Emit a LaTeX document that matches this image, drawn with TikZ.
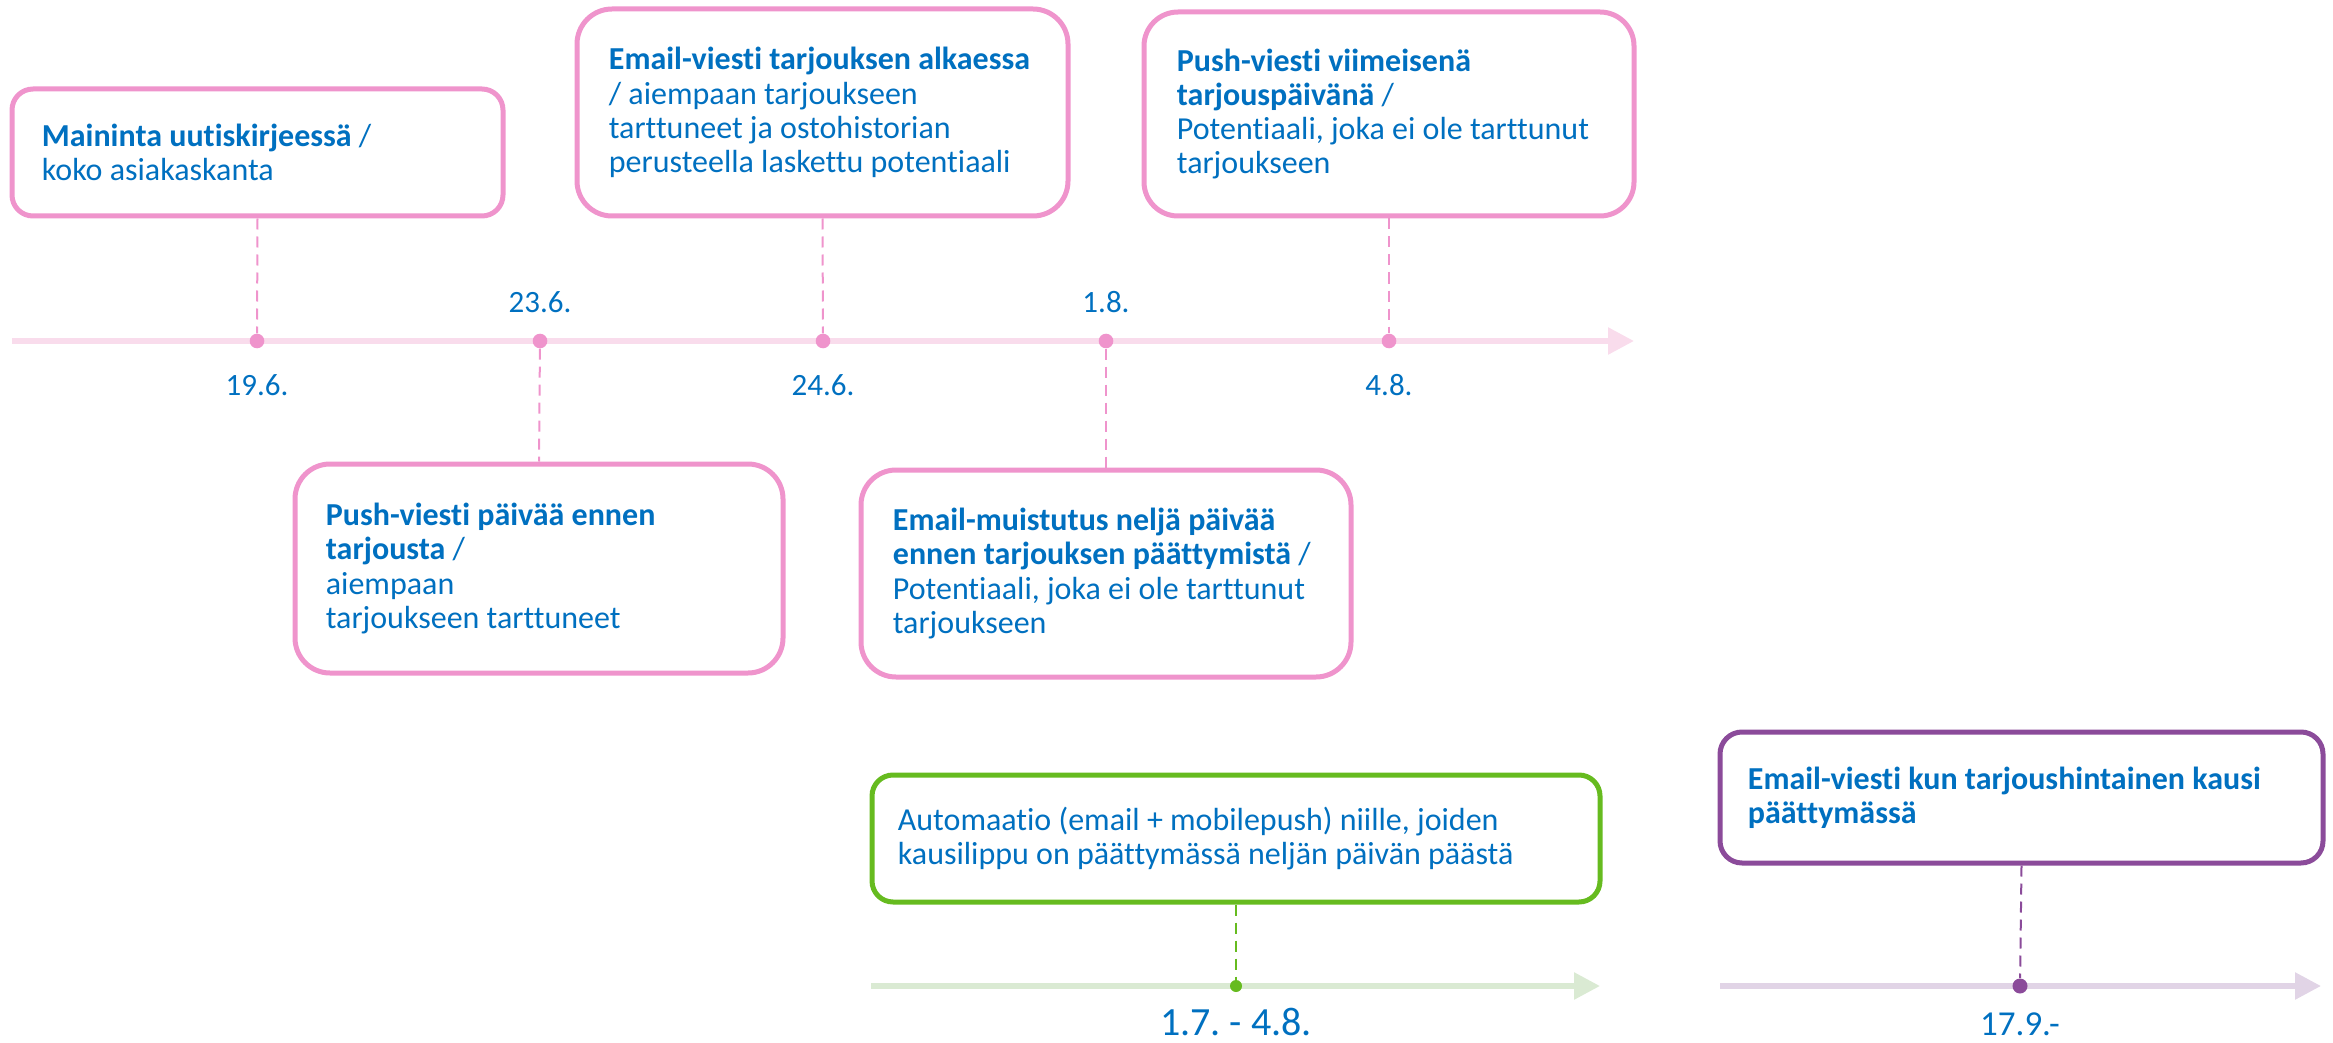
\documentclass[tikz,border=0pt]{standalone}
\usepackage{fontspec}
\setmainfont{Carlito}[Ligatures=NoCommon]
\usetikzlibrary{arrows.meta}
\frenchspacing
\definecolor{pinkc}{HTML}{EF94CC}
\definecolor{pinkl}{HTML}{F9DCEC}
\definecolor{txtblue}{HTML}{0070C0}
\definecolor{greenc}{HTML}{66BB1F}
\definecolor{greenl}{HTML}{DAEAD3}
\definecolor{purc}{HTML}{8B4B9A}
\definecolor{purl}{HTML}{E1D4E6}
\newcommand{\boxfont}{\fontsize{16}{17.1}\selectfont}
\begin{document}
\begin{tikzpicture}[x=0.5pt,y=-0.5pt,
  bx/.style={rectangle, draw=pinkc, line width=2.5pt, fill=white, inner sep=0pt},
  btext/.style={anchor=west, align=left, inner sep=0pt, text=txtblue, font=\boxfont},
  datelab/.style={inner sep=0pt, text=txtblue, font=\fontsize{15.5}{17}\selectfont},
  pdot/.style={circle, fill=pinkc, inner sep=0pt, minimum size=7.3pt},
  pdash/.style={draw=pinkc, line width=1pt, dash pattern=on 5.5pt off 3.5pt},
  tl/.style={line width=2.8pt, -{Triangle[length=13pt,width=13pt]}}
]
\useasboundingbox (0,0) rectangle (2333,1043);

% top timeline
\coordinate (ts) at (12,341);
\coordinate (te) at (1634,341);
\draw[tl, draw=pinkl, fill=pinkl] (ts) -- (te);

\node[pdot] (d1) at (257,341) {};
\node[pdot] (d2) at (540,341) {};
\node[pdot] (d3) at (823,341) {};
\node[pdot] (d4) at (1106,341) {};
\node[pdot] (d5) at (1389,341) {};

\node[datelab] (l1) at (257,385) {19.6.};
\node[datelab] (l2) at (540,302) {23.6.};
\node[datelab] (l3) at (823,385) {24.6.};
\node[datelab] (l4) at (1106,302) {1.8.};
\node[datelab] (l5) at (1389,385) {4.8.};

% boxes
\node[bx, minimum width=245.5pt, minimum height=63.5pt, rounded corners=10.5pt] (b1) at (257.5,152.5) {};
\node[btext] (t1) at ([xshift=16pt]b1.west) {\textbf{Maininta uutiskirjeessä} /\\koko asiakaskanta};

\node[bx, minimum width=245.5pt, minimum height=103.5pt, rounded corners=17.5pt] (b2) at (822.5,112.5) {};
\node[btext] (t2) at ([xshift=17pt]b2.west) {\textbf{Email-viesti tarjouksen alkaessa}\\/ aiempaan tarjoukseen\\tarttuneet ja ostohistorian\\perusteella laskettu potentiaali};

\node[bx, minimum width=245pt, minimum height=102pt, rounded corners=17pt] (b4) at (1389,114) {};
\node[btext] (t4) at ([xshift=17.5pt]b4.west) {\textbf{Push-viesti viimeisenä}\\\textbf{tarjouspäivänä} /\\Potentiaali, joka ei ole tarttunut\\tarjoukseen};

\node[bx, minimum width=244pt, minimum height=104.5pt, rounded corners=17.5pt] (b3) at (539,568.5) {};
\node[btext] (t3) at ([xshift=16.5pt]b3.west) {\textbf{Push-viesti päivää ennen}\\\textbf{tarjousta} /\\aiempaan\\tarjoukseen tarttuneet};

\node[bx, minimum width=245pt, minimum height=103.5pt, rounded corners=17.5pt] (b5) at (1106,573.5) {};
\node[btext] (t5) at ([xshift=17pt]b5.west) {\textbf{Email-muistutus neljä päivää}\\\textbf{ennen tarjouksen päättymistä} /\\Potentiaali, joka ei ole tarttunut\\tarjoukseen};

% connectors top
\draw[pdash] (b1.south) -- (d1);
\draw[pdash] (b2.south) -- (d3);
\draw[pdash] (b4.south) -- (d5);
\draw[pdash] (d2) -- (b3.north);
\draw[pdash] (d4) -- (b5.north);

% green timeline
\coordinate (gs) at (871,986);
\coordinate (ge) at (1600,986);
\draw[tl, draw=greenl, fill=greenl] (gs) -- (ge);
\node[circle, fill=greenc, inner sep=0pt, minimum size=6pt] (gd) at (1236,986) {};
\node[bx, draw=greenc, minimum width=364pt, minimum height=63.5pt, rounded corners=10.5pt] (gb) at (1236,838.5) {};
\node[btext] (gt) at ([xshift=14pt]gb.west) {Automaatio (email + mobilepush) niille, joiden\\kausilippu on päättymässä neljän päivän päästä};
\draw[draw=greenc, line width=1pt, dash pattern=on 5.5pt off 3.5pt] (gb.south) -- (gd);
\node[inner sep=0pt, text=txtblue, font=\fontsize{20}{24}\selectfont] (gl) at (1236,1022) {1.7. - 4.8.};

% purple timeline
\coordinate (ps) at (1720,986);
\coordinate (pe) at (2321,986);
\draw[tl, draw=purl, fill=purl] (ps) -- (pe);
\node[circle, fill=purc, inner sep=0pt, minimum size=7.5pt] (pd) at (2020,986) {};
\node[bx, draw=purc, minimum width=301.5pt, minimum height=65.5pt, rounded corners=11pt] (pb) at (2021.5,797.5) {};
\node[btext] (pt) at ([xshift=15pt]pb.west) {\textbf{Email-viesti kun tarjoushintainen kausi}\\\textbf{päättymässä}};
\draw[draw=purc, line width=1pt, dash pattern=on 5.5pt off 3.5pt] (pb.south) -- (pd);
\node[inner sep=0pt, text=txtblue, font=\fontsize{17.5}{21}\selectfont] (plb) at (2020,1024) {17.9.-};
\end{tikzpicture}
\end{document}
